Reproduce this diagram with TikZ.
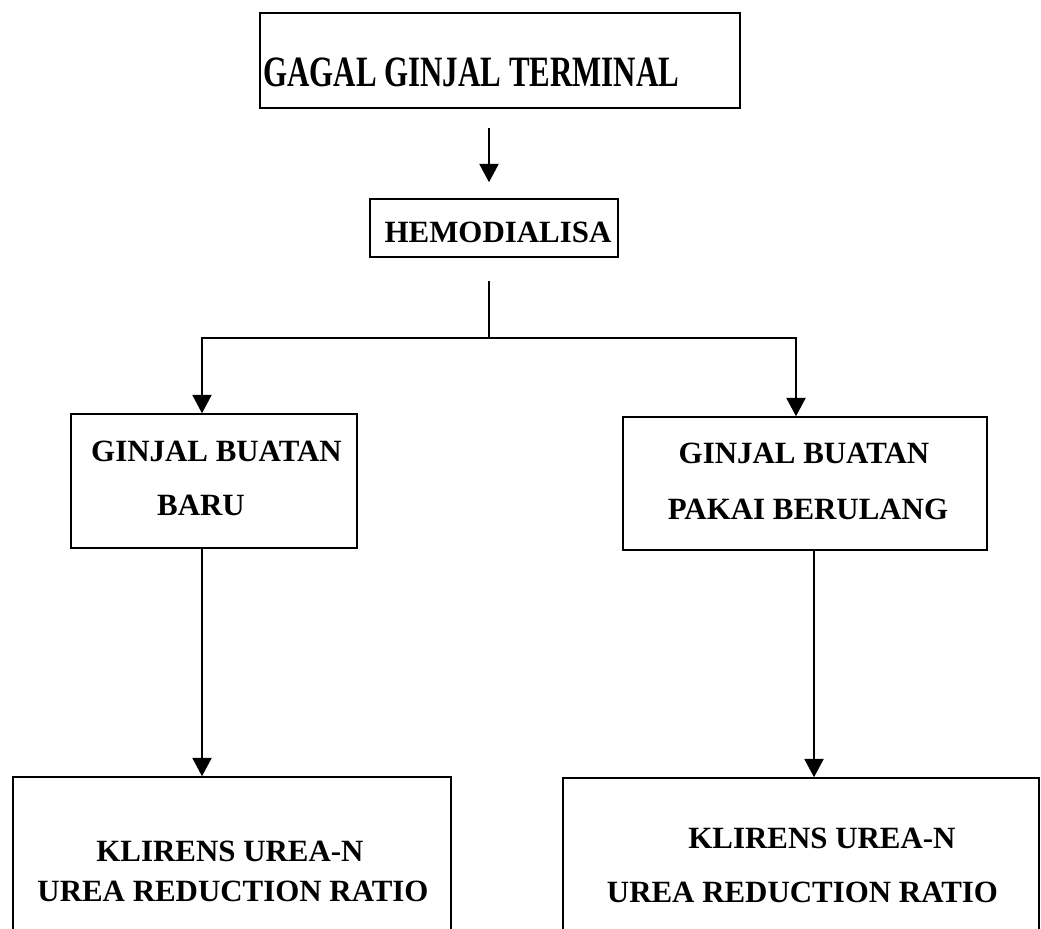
\documentclass[tikz,border=0pt]{standalone}
\usepackage{fontspec}
\setmainfont{Liberation Serif}
\usepackage{tikz}
\usetikzlibrary{shapes,arrows.meta,calc}
\newcommand\boxfont{\fontsize{17.6pt}{20pt}\selectfont\bfseries}
\tikzset{
  box/.style={draw, line width=0.9pt, inner sep=0pt},
  lbl/.style={inner sep=0pt, anchor=base, font=\boxfont},
  flow/.style={line width=0.9pt, -{Triangle[width=11pt,length=10.5pt]}}
}

\begin{document}
\begin{tikzpicture}[x=0.02cm, y=-0.02cm]
\clip (0,0) rectangle (1041,929);

% to draw boxes
\node [box, minimum width=9.6cm, minimum height=1.9cm] (gagal) at (500,60.5) {};
\node [box, minimum width=4.96cm, minimum height=1.16cm] (hemo) at (494,228) {};
\node [box, minimum width=5.72cm, minimum height=2.68cm] (baru) at (214,481) {};
\node [box, minimum width=7.28cm, minimum height=2.66cm] (ulang) at (805,483.5) {};
\node [box, minimum width=8.76cm, minimum height=3.16cm] (klirA) at (232,856) {};
\node [box, minimum width=9.52cm, minimum height=3.14cm] (klirB) at (801,856.5) {};

% to write texts
\node [lbl, anchor=base west] (gagaltxt) at (263,87) {\scalebox{1}[1.4]{GAGAL GINJAL TERMINAL}};
\node [lbl] (hemotxt) at (498,242) {HEMODIALISA};
%left side:
\node [lbl] (barutxtA) at (216.5,461) {GINJAL BUATAN};
\node [lbl] (barutxtB) at (201,515) {BARU};
\node [lbl] (klirAtxtA) at (230,861) {KLIRENS UREA-N};
\node [lbl] (klirAtxtB) at (233,901) {UREA REDUCTION RATIO};
%right side:
\node [lbl] (ulangtxtA) at (804,463) {GINJAL BUATAN};
\node [lbl] (ulangtxtB) at (808,519) {PAKAI BERULANG};
\node [lbl] (klirBtxtA) at (822,848) {KLIRENS UREA-N};
\node [lbl] (klirBtxtB) at (802.5,902) {UREA REDUCTION RATIO};

% to draw arrows
\coordinate (gagalout) at ($(gagal.south)+(-11,19)$);
\draw [flow] (gagalout) -- ($(gagalout |- hemo.north)+(0,-16)$);
\coordinate (hemoout) at ($(hemo.south)+(-5,23)$);
\coordinate (split) at (489,338);
\draw [line width=0.9pt] (hemoout) -- (split);
\draw [flow] (split) -| ($(baru.north)+(-12,0)$);
\draw [flow] (split) -| ($(ulang.north)+(-9,0)$);
\coordinate (baruout) at ($(baru.south)+(-12,0)$);
\draw [flow] (baruout) -- (baruout |- klirA.north);
\coordinate (ulangout) at ($(ulang.south)+(9,0)$);
\draw [flow] (ulangout) -- (ulangout |- klirB.north);
\end{tikzpicture}
\end{document}
